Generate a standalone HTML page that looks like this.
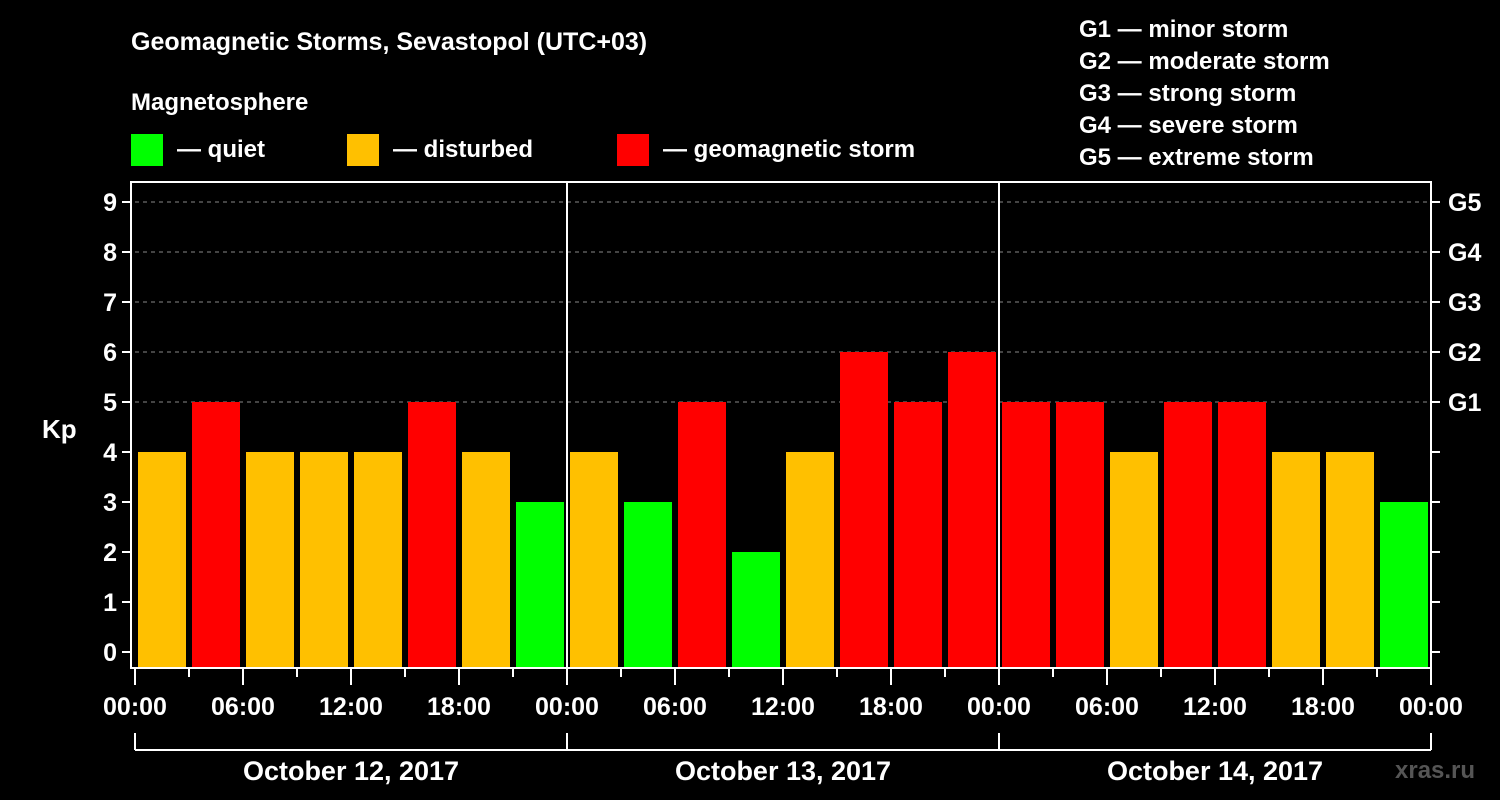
<!DOCTYPE html>
<html><head><meta charset="utf-8"><style>
body{margin:0;background:#000;width:1500px;height:800px;overflow:hidden}
svg{display:block;font-family:"Liberation Sans",sans-serif;font-weight:bold}
</style></head><body>
<svg id="c" width="1500" height="800" xmlns="http://www.w3.org/2000/svg">
<rect width="1500" height="800" fill="#000"/>
<text x="131" y="50" fill="#fff" font-size="25">Geomagnetic Storms, Sevastopol (UTC+03)</text>
<text x="131" y="110" fill="#fff" font-size="24">Magnetosphere</text>
<g><rect x="131" y="134" width="32" height="32" fill="#00ff00"/><text x="177" y="157" fill="#fff" font-size="24">— quiet</text></g>
<g><rect x="347" y="134" width="32" height="32" fill="#ffc000"/><text x="393" y="157" fill="#fff" font-size="24">— disturbed</text></g>
<g><rect x="617" y="134" width="32" height="32" fill="#ff0000"/><text x="663" y="157" fill="#fff" font-size="24">— geomagnetic storm</text></g>
<g fill="#fff" font-size="24">
<text x="1079" y="37">G1 — minor storm</text>
<text x="1079" y="69">G2 — moderate storm</text>
<text x="1079" y="101">G3 — strong storm</text>
<text x="1079" y="133">G4 — severe storm</text>
<text x="1079" y="165">G5 — extreme storm</text>
</g>
<text x="42" y="438" fill="#fff" font-size="26">Kp</text>
<text x="1395" y="778" fill="#555" font-size="24">xras.ru</text>
<g id="g"></g>
</svg>
<script>
const kpValues=[4,5,4,4,4,5,4,3, 4,3,5,2,4,6,5,6, 5,5,4,5,5,4,4,3];
const yTicks=[0,1,2,3,4,5,6,7,8,9];
const gLabels=[[5,"G1"],[6,"G2"],[7,"G3"],[8,"G4"],[9,"G5"]];
const xTickLabels=["00:00","06:00","12:00","18:00","00:00","06:00","12:00","18:00","00:00","06:00","12:00","18:00","00:00"];
const dayLabels=["October 12, 2017","October 13, 2017","October 14, 2017"];
const NS="http://www.w3.org/2000/svg";
const g=document.getElementById("g");
const X0=135,HR=18,Y0=652,KU=50,BOT=668,TOP=182;
const x=h=>X0+h*HR, y=v=>Y0-v*KU;
function mk(t,a,p){const e=document.createElementNS(NS,t);for(const k in a)e.setAttribute(k,a[k]);(p||g).appendChild(e);return e;}
function col(v){return v<=3?"#00ff00":v==4?"#ffc000":"#ff0000";}
// grid
yTicks.forEach(v=>{if(v>=5){const l=mk("line",{x1:x(0),x2:x(72),y1:y(v),y2:y(v),stroke:"#888","stroke-dasharray":"4,4","stroke-width":1});

}});
// bars
kpValues.forEach((v,i)=>{const r=mk("rect",{x:x(i*3)+3,y:y(v),width:3*HR-6,height:BOT-y(v),fill:col(v)});

});
// axes frame
const fr=mk("rect",{x:x(0)-4,y:TOP,width:x(72)-x(0)+4,height:BOT-TOP,fill:"none",stroke:"#fff","stroke-width":2});


[1,2].forEach(d=>{const l=mk("line",{x1:x(d*24),x2:x(d*24),y1:TOP,y2:BOT,stroke:"#fff","stroke-width":2});

});
// y ticks
yTicks.forEach(v=>{
mk("line",{x1:x(0)-13,x2:x(0)-4,y1:y(v),y2:y(v),stroke:"#fff","stroke-width":2});
mk("line",{x1:x(72),x2:x(72)+9,y1:y(v),y2:y(v),stroke:"#fff","stroke-width":2});
const t=mk("text",{x:x(0)-18,y:y(v)+9,fill:"#fff","font-size":25,"text-anchor":"end"});t.textContent=v;

});
gLabels.forEach(([v,s])=>{const t=mk("text",{x:x(72)+17,y:y(v)+9,fill:"#fff","font-size":25});t.textContent=s;

});
// x ticks
for(let h=0;h<=72;h+=3){const maj=h%6==0;mk("line",{x1:x(h),x2:x(h),y1:BOT,y2:BOT+(maj?17:9),stroke:"#fff","stroke-width":2});}
xTickLabels.forEach((s,i)=>{const t=mk("text",{x:x(i*6),y:715,fill:"#fff","font-size":25,"text-anchor":"middle"});t.textContent=s;

});
// day bracket
mk("line",{x1:x(0),x2:x(72),y1:750,y2:750,stroke:"#fff","stroke-width":2});
for(let d=0;d<=3;d++)mk("line",{x1:x(d*24),x2:x(d*24),y1:733,y2:750,stroke:"#fff","stroke-width":2});
dayLabels.forEach((s,i)=>{const t=mk("text",{x:x(i*24+12),y:780,fill:"#fff","font-size":27,"text-anchor":"middle"});t.textContent=s;

});
</script>
</body></html>
